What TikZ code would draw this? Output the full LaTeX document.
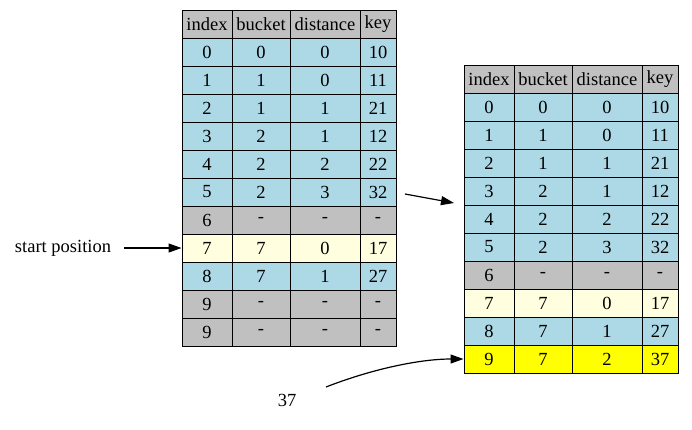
\documentclass[tikz,border=0pt]{standalone}
\usepackage{fontspec}
\setmainfont{Liberation Serif}
\usetikzlibrary{arrows.meta}
\definecolor{lb}{HTML}{ADD8E6}
\definecolor{gr}{HTML}{C0C0C0}
\definecolor{ly}{HTML}{FFFFE0}
\definecolor{yl}{HTML}{FFFF00}
\tikzset{
  cell/.style={draw=black, line width=1pt, inner sep=0pt, minimum height=28pt, font=\fontsize{18.5}{20}\selectfont},
  lbl/.style={inner sep=0pt, font=\fontsize{18.5}{20}\selectfont},
  arr/.style={line width=1.2pt, -{Triangle[length=13pt,width=9pt]}}
}
% #1 prefix, #2 row id, #3 top y, #4 fill, #5-#8 texts
\newcommand\trow[8]{%
  \node[cell,fill=#4,minimum width=50pt] (#1-#2-a) at (\tx+25,#3+14) {#5};
  \node[cell,fill=#4,minimum width=58pt] (#1-#2-b) at (\tx+79,#3+14) {#6};
  \node[cell,fill=#4,minimum width=70pt] (#1-#2-c) at (\tx+143,#3+14) {#7};
  \node[cell,fill=#4,minimum width=36pt] (#1-#2-d) at (\tx+196,#3+14) {#8};
}
\begin{document}
\begin{tikzpicture}[x=1pt,y=-1pt]
\useasboundingbox (0,0) rectangle (692,429);
% left table
\def\tx{182}
\trow{L}{h}{10}{gr}{index}{bucket}{distance}{key}
\trow{L}{0}{38}{lb}{0}{0}{0}{10}
\trow{L}{1}{66}{lb}{1}{1}{0}{11}
\trow{L}{2}{94}{lb}{2}{1}{1}{21}
\trow{L}{3}{122}{lb}{3}{2}{1}{12}
\trow{L}{4}{150}{lb}{4}{2}{2}{22}
\trow{L}{5}{178}{lb}{5}{2}{3}{32}
\trow{L}{6}{206}{gr}{6}{-}{-}{-}
\trow{L}{7}{234}{ly}{7}{7}{0}{17}
\trow{L}{8}{262}{lb}{8}{7}{1}{27}
\trow{L}{9}{290}{gr}{9}{-}{-}{-}
\trow{L}{10}{318}{gr}{9}{-}{-}{-}
% right table
\def\tx{464}
\trow{R}{h}{65}{gr}{index}{bucket}{distance}{key}
\trow{R}{0}{93}{lb}{0}{0}{0}{10}
\trow{R}{1}{121}{lb}{1}{1}{0}{11}
\trow{R}{2}{149}{lb}{2}{1}{1}{21}
\trow{R}{3}{177}{lb}{3}{2}{1}{12}
\trow{R}{4}{205}{lb}{4}{2}{2}{22}
\trow{R}{5}{233}{lb}{5}{2}{3}{32}
\trow{R}{6}{261}{gr}{6}{-}{-}{-}
\trow{R}{7}{289}{ly}{7}{7}{0}{17}
\trow{R}{8}{317}{lb}{8}{7}{1}{27}
\trow{R}{9}{345}{yl}{9}{7}{2}{37}
% labels
\node[lbl] (sp) at (63,248) {start position};
\node[lbl] (k) at (287,400) {37};
\coordinate (sps) at (124,248);
\coordinate (e1s) at (405,194);
\coordinate (e1e) at (454,203);
\coordinate (ks) at (326,387);
\draw[arr] (sps) -- (L-7-a.west);
\draw[arr] (e1s) -- (e1e);
\draw[arr] (ks) .. controls (372,369) and (420,359) .. (R-9-a.west);
\end{tikzpicture}
\end{document}
